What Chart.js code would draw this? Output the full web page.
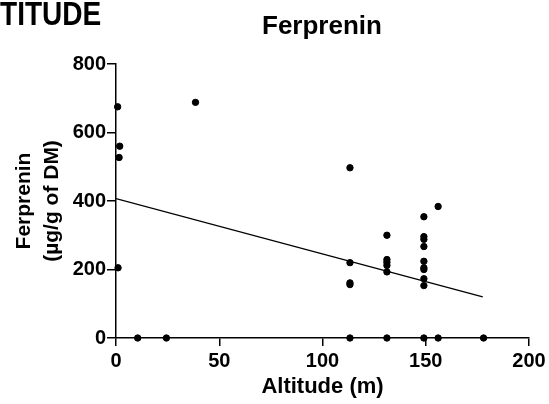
<!DOCTYPE html>
<html>
<head>
<meta charset="utf-8">
<script src="https://cdn.jsdelivr.net/npm/chart.js@4"></script>
<style>
  body { margin: 0; background: #fff; }
  #wrap { position: relative; width: 549px; height: 404px; overflow: hidden; font-family: "Liberation Sans", Arial, sans-serif; }
  #cut { position: absolute; left: 0; top: -3px; font-weight: bold; font-size: 33px; line-height: 1; color: #000; transform: scaleX(0.85); transform-origin: 0 0; white-space: nowrap; }
  #ttl { position: absolute; left: 222px; width: 200px; top: 12px; text-align: center; font-weight: bold; font-size: 26px; line-height: 1; color: #000; }
</style>
</head>
<body>
<div id="wrap">
  <canvas id="c" width="549" height="404"></canvas>
  <div id="cut">TITUDE</div>
  <div id="ttl">Ferprenin</div>
</div>
<script>
// altitude (m) and ferprenin (µg/g of DM) per sample
var altitude = [0.8, 1.8, 1.5, 1, 38.5, 10.5, 24.4,
    113.3, 113.3, 113.3, 113.3, 113.3,
    131.2, 131.2, 131.2, 131.2, 131.2, 131.2,
    149.1, 149.1, 149.1, 149.1, 149.1, 149.1, 149.1, 149.1, 149.1, 149.1,
    156, 156, 178];
var ferprenin = [675, 560, 527, 205, 688, 0, 0,
    497, 220, 161, 156, 0,
    300, 229, 221, 212, 193, 0,
    354, 296, 288, 267, 224, 205, 200, 173, 153, 0,
    384, 0, 0];
// fitted line end points
var fitX = [0, 177.6];
var fitY = [407, 120];

var xTicks = [0, 50, 100, 150, 200];
var yTicks = [0, 200, 400, 600, 800];

var pts = altitude.map(function (a, i) { return { x: a, y: ferprenin[i] }; });
var fit = fitX.map(function (a, i) { return { x: a, y: fitY[i] }; });

Chart.defaults.font.family = "'Liberation Sans', Arial, sans-serif";
Chart.defaults.color = '#000';

new Chart(document.getElementById('c').getContext('2d'), {
    type: 'scatter',
    data: {
        datasets: [{
            data: pts,
            backgroundColor: '#000',
            borderColor: '#000',
            pointRadius: 3.2,
            pointHoverRadius: 3.2,
            clip: false
        }, {
            type: 'line',
            data: fit,
            borderColor: '#000',
            borderWidth: 1.4,
            pointRadius: 0,
            fill: false
        }]
    },
    options: {
        responsive: false,
        animation: false,
        layout: { padding: { left: 0, right: 20, top: 64, bottom: 4 } },
        plugins: {
            legend: { display: false },
            tooltip: { enabled: false }
        },
        scales: {
            x: {
                type: 'linear',
                min: 0,
                max: 200,
                afterBuildTicks: function (s) { s.ticks = xTicks.map(function (v) { return { value: v }; }); },
                ticks: { font: { size: 20, weight: 'bold' }, padding: 3 },
                grid: { drawOnChartArea: false, drawTicks: true, tickLength: 8, color: '#000', lineWidth: 1.5 },
                border: { color: '#000', width: 1.5 },
                title: { display: true, text: 'Altitude (m)', font: { size: 22, weight: 'bold' }, padding: { top: 0, bottom: 0 } },
                afterFit: function (s) { s.height = 62; }
            },
            y: {
                min: 0,
                max: 800,
                afterBuildTicks: function (s) { s.ticks = yTicks.map(function (v) { return { value: v }; }); },
                ticks: { font: { size: 20, weight: 'bold' }, padding: 1 },
                grid: { drawOnChartArea: false, drawTicks: true, tickLength: 9, color: '#000', lineWidth: 1.5 },
                border: { color: '#000', width: 1.5 },
                title: { display: true, text: ['Ferprenin', '(µg/g of DM)'], font: { size: 21, weight: 'bold', lineHeight: 1.35 }, padding: { top: 10, bottom: 0 } },
                afterFit: function (s) { s.width = 116; }
            }
        }
    }
});
</script>
</body>
</html>
